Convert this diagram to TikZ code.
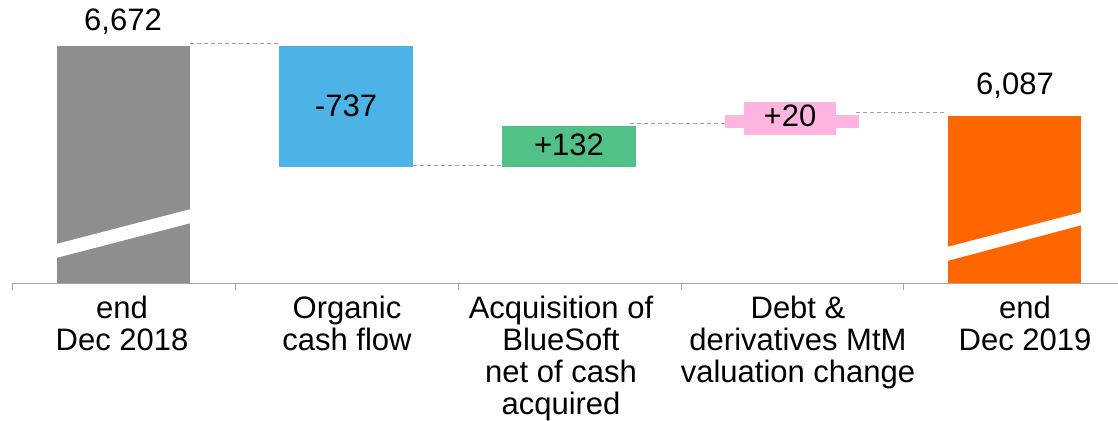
\documentclass[tikz,border=0pt]{standalone}
\usepackage{fontspec}
\setmainfont{Liberation Sans}
\usetikzlibrary{positioning}

\begin{document}
\begin{tikzpicture}[x=1pt, y=-1pt,
    value/.style={font=\fontsize{31}{32}\selectfont, inner sep=0pt},
    category/.style={font=\fontsize{31}{32}\selectfont, align=center, anchor=north, inner sep=0pt},
    link/.style={gray!75, line width=0.9pt, dash pattern=on 4pt off 3pt}]

% Define colors
\definecolor{barGray}{RGB}{142, 142, 142}
\definecolor{barBlue}{RGB}{77, 179, 230}
\definecolor{barGreen}{RGB}{82, 193, 136}
\definecolor{barPink}{RGB}{253, 181, 224}
\definecolor{barOrange}{RGB}{255, 102, 0}

\useasboundingbox (0, 0) rectangle (1118, 420);

% Draw the bars
\fill[barGray] (57, 46) rectangle (190, 283);
\fill[barBlue] (279, 46) rectangle (413, 167);
\fill[barGreen] (502, 126) rectangle (636, 167);
\fill[barPink] (725, 115) rectangle (859, 128);
\fill[barPink] (744, 102) rectangle (836, 135);
\fill[barOrange] (948, 116) rectangle (1081, 283);

% Axis breaks
\fill[white] (56, 244) -- (191, 209) -- (191, 223) -- (56, 258) -- cycle;
\fill[white] (947, 247) -- (1082, 212) -- (1082, 225) -- (947, 261) -- cycle;

% Dashed connectors
\draw[link] (190, 43) -- (279, 43);
\draw[link] (413, 165) -- (502, 165);
\draw[link] (630, 123) -- (725, 123);
\draw[link] (856, 112) -- (945, 112);

% Draw the axis
\draw[gray!70, line width=1pt] (12, 283) -- (1118, 283);
\foreach \x in {12, 235, 458, 681, 903}
  \draw[gray!70, line width=1pt] (\x, 283) -- (\x, 290);

% Add value labels
\node[value] (v1) at (123, 22) {6,672};
\node[value] (v2) at (346, 106) {-737};
\node[value] (v3) at (569, 145) {+132};
\node[value] (v4) at (790, 116) {+20};
\node[value] (v5) at (1015, 86) {6,087};

% Add category labels
\node[category] (c1) at (122, 296) {end\\Dec 2018};
\node[category] (c2) at (347, 296) {Organic\\cash flow};
\node[category] (c3) at (561, 296) {Acquisition of\\BlueSoft\\net of cash\\acquired};
\node[category] (c4) at (798, 296) {Debt \&\\derivatives MtM\\valuation change};
\node[category] (c5) at (1025, 296) {end\\Dec 2019};

\end{tikzpicture}
\end{document}
